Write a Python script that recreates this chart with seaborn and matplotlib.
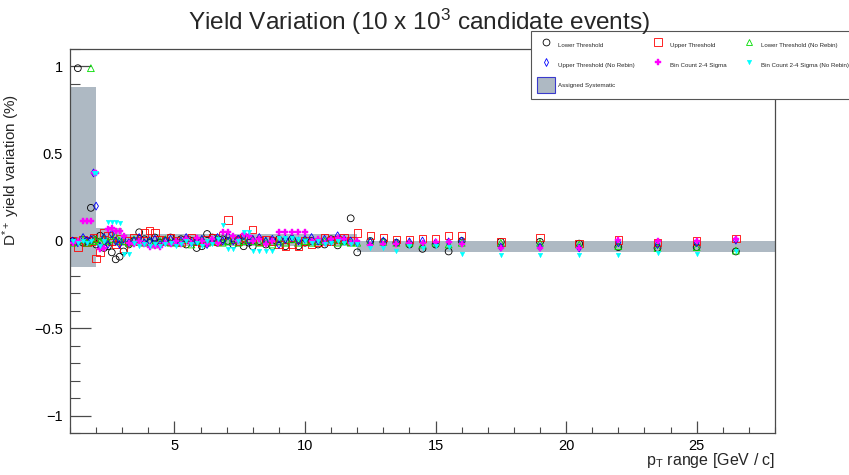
import numpy as np
import pandas as pd
import matplotlib
matplotlib.use("Agg")
import matplotlib.pyplot as plt
import seaborn as sns
from matplotlib.patches import Patch
from matplotlib.lines import Line2D
from matplotlib.ticker import MultipleLocator

# ---------------- data ----------------
pt = [1.1, 1.3, 1.5, 1.65, 1.8, 1.9, 2.0, 2.15, 2.3, 2.45, 2.6, 2.75, 2.9,
      3.05, 3.25, 3.45, 3.65, 3.85, 4.05, 4.25, 4.45, 4.65, 4.85, 5.05, 5.25, 5.45,
      5.65, 5.85, 6.05, 6.25, 6.45, 6.65, 6.85, 7.05, 7.25, 7.45, 7.65, 7.85,
      8.0, 8.25, 8.5, 8.75, 9.0, 9.25, 9.5, 9.75, 10.0, 10.25, 10.5, 10.75, 11.0, 11.25, 11.5, 11.75,
      12.0, 12.5, 13.0, 13.5, 14.0, 14.5, 15.0, 15.5, 16.0,
      17.5, 19.0, 20.5, 22.0, 23.5, 25.0, 26.5]

lower_threshold = [0.0, 0.99, -0.01, 0.0, 0.19, 0.01, -0.02, 0.03, -0.04, -0.03, -0.065, -0.105, -0.09,
                   -0.06, -0.02, 0.0, 0.05, 0.01, -0.01, 0.02, -0.01, 0.0, 0.02, -0.01, 0.01, -0.02,
                   0.0, -0.04, -0.03, 0.04, 0.02, -0.01, 0.01, 0.0, -0.02, 0.01, -0.03, -0.01,
                   -0.03, 0.0, -0.02, -0.03, 0.01, -0.03, 0.01, -0.03, -0.01, 0.0, -0.02, -0.02, 0.01, -0.025, 0.0, 0.13,
                   -0.065, 0.0, -0.005, -0.01, -0.02, -0.045, -0.02, -0.06, 0.0,
                   -0.005, -0.005, -0.015, -0.035, -0.04, -0.035, -0.06]

upper_threshold = [0.0, -0.035, 0.01, -0.01, 0.0, 0.02, -0.10, -0.065, 0.05, 0.03, 0.0, -0.02, 0.015,
                   -0.04, 0.0, 0.02, 0.0, 0.045, 0.06, 0.05, 0.01, 0.0, 0.02, 0.0, -0.01, 0.01,
                   0.02, 0.0, -0.01, 0.01, 0.02, 0.0, 0.03, 0.12, 0.01, 0.0, 0.02, 0.01,
                   0.065, 0.0, 0.01, 0.0, -0.02, -0.03, -0.02, -0.03, 0.0, -0.02, -0.01, 0.02, 0.0, 0.01, 0.02, 0.0,
                   0.045, 0.03, 0.02, 0.01, 0.01, 0.015, 0.015, 0.03, 0.03,
                   -0.005, 0.02, -0.015, 0.005, -0.01, 0.0, 0.015]

lower_threshold_norebin = [-0.01, 0.0, 0.01, -0.01, 0.99, 0.0, 0.01, 0.0, 0.02, 0.0, 0.01, 0.03, 0.0,
                           0.0, -0.01, 0.01, 0.0, -0.01, 0.0, -0.02, 0.0, 0.01, -0.01, 0.0, -0.01, 0.01,
                           -0.02, 0.0, 0.01, -0.01, 0.0, 0.01, -0.01, 0.0, 0.01, -0.01, 0.0, 0.01,
                           0.0, -0.01, 0.0, -0.02, 0.0, -0.01, 0.01, -0.01, 0.0, -0.01, 0.0, 0.0, 0.01, -0.01, 0.0, -0.01,
                           -0.01, 0.0, -0.005, -0.01, -0.01, -0.02, -0.01, -0.02, -0.01,
                           -0.01, -0.01, -0.02, -0.03, -0.04, -0.035, -0.055]

upper_threshold_norebin = [0.0, -0.01, 0.02, 0.0, 0.01, 0.39, 0.2, -0.03, 0.02, -0.02, 0.04, 0.0, -0.02,
                           0.01, -0.01, 0.0, 0.02, -0.01, 0.0, 0.01, -0.02, 0.0, 0.01, -0.01, 0.0, 0.02,
                           -0.01, 0.0, 0.01, -0.02, 0.0, 0.02, 0.0, 0.03, 0.0, 0.01, 0.03, 0.0,
                           0.01, 0.02, 0.0, 0.01, -0.02, 0.01, 0.02, 0.0, 0.01, 0.02, 0.0, 0.01, 0.0, 0.03, 0.01, 0.0,
                           -0.01, -0.005, 0.0, -0.01, -0.005, 0.0, -0.01, -0.005, 0.0,
                           -0.035, -0.035, -0.04, -0.01, -0.02, -0.01, 0.005]

bin_count = [-0.01, 0.0, 0.115, 0.115, 0.115, 0.39, 0.39, -0.045, -0.04, 0.07, 0.075, 0.06, 0.055,
             0.03, -0.01, -0.02, 0.0, -0.02, -0.035, -0.03, -0.035, -0.01, -0.02, 0.0, -0.02, 0.01,
             -0.01, 0.02, 0.0, -0.02, 0.01, -0.01, 0.05, 0.05, 0.03, 0.0, 0.04, 0.03,
             0.0, 0.01, -0.02, 0.0, 0.05, 0.05, 0.05, 0.05, 0.05, 0.0, 0.01, -0.01, 0.01, 0.02, 0.01, -0.01,
             0.0, -0.025, -0.02, -0.02, -0.01, -0.01, -0.005, -0.005, -0.02,
             -0.04, -0.04, -0.04, 0.005, 0.0, 0.0, 0.01]

bin_count_norebin = [0.0, -0.01, 0.0, -0.01, 0.0, 0.39, 0.39, -0.03, 0.0, 0.11, 0.11, 0.11, 0.105,
                     -0.075, -0.075, -0.01, -0.03, -0.02, -0.03, -0.02, -0.03, -0.02, -0.01, -0.03, -0.02, 0.0,
                     -0.02, -0.01, -0.03, 0.0, -0.02, 0.01, 0.09, -0.045, -0.045, 0.0, 0.05, 0.05,
                     -0.06, -0.06, -0.06, -0.06, 0.02, 0.02, 0.02, 0.01, 0.0, -0.01, 0.0, -0.02, -0.01, 0.0, -0.01, -0.02,
                     -0.02, -0.04, -0.04, -0.06, -0.03, -0.04, -0.03, -0.035, -0.075,
                     -0.08, -0.08, -0.08, -0.08, -0.07, -0.075, -0.06]

# assigned systematic band (step histogram)
sys_edges = [1.0, 2.0, 3.0, 12.0, 28.0]
sys_low = [-0.15, -0.03, -0.03, -0.065]
sys_high = [0.88, 0.075, 0.04, 0.0]

series_names = ["Lower Threshold", "Upper Threshold", "Lower Threshold (No Rebin)",
                "Upper Threshold (No Rebin)", "Bin Count 2-4 Sigma", "Bin Count 2-4 Sigma (No Rebin)"]
series_values = [lower_threshold, upper_threshold, lower_threshold_norebin,
                 upper_threshold_norebin, bin_count, bin_count_norebin]

# ---------------- styling ----------------
styles = {
    "Lower Threshold": dict(marker="o", s=24, fc="none", ec="#000000", lw=0.6),
    "Upper Threshold": dict(marker="s", s=28, fc="none", ec="#ff0000", lw=0.6),
    "Lower Threshold (No Rebin)": dict(marker="^", s=24, fc="none", ec="#00dd00", lw=0.6),
    "Upper Threshold (No Rebin)": dict(marker="d", s=16, fc="none", ec="#0000ff", lw=0.6),
    "Bin Count 2-4 Sigma": dict(marker="P", s=17, fc="#ff00ff", ec="#ff00ff", lw=0.3),
    "Bin Count 2-4 Sigma (No Rebin)": dict(marker="v", s=11, fc="#00ffff", ec="#00ffff", lw=0.3),
}

sns.set_theme(style="white")
plt.rcParams['font.family'] = ['Liberation Sans', 'DejaVu Sans']
plt.rcParams['mathtext.fontset'] = 'custom'
plt.rcParams['mathtext.rm'] = 'Liberation Sans'
plt.rcParams['mathtext.it'] = 'Liberation Sans:italic'
plt.rcParams['mathtext.bf'] = 'Liberation Sans:bold'

W, H = 849, 475
fig = plt.figure(figsize=(W / 100, H / 100), dpi=100)
ax = fig.add_axes([70 / W, 1 - 433 / H, (775 - 70) / W, (433 - 49) / H])

# band
band_color = "#aeb9c3"
ax.bar(sys_edges[:-1], np.array(sys_high) - np.array(sys_low), width=np.diff(sys_edges),
       bottom=sys_low, align="edge", color=band_color, linewidth=0, zorder=1)

# points
df = pd.concat([pd.DataFrame({"pt": pt, "value": v, "series": n})
                for n, v in zip(series_names, series_values)], ignore_index=True)
for n in series_names:
    st = styles[n]
    sub = df[df["series"] == n]
    sns.scatterplot(data=sub, x="pt", y="value", ax=ax, marker=st["marker"], s=st["s"],
                    facecolors=st["fc"], edgecolors=st["ec"], linewidths=st["lw"],
                    zorder=3, legend=False)

ax.set_xlim(1, 28)
ax.set_ylim(-1.1, 1.1)
ax.set_xticks([5, 10, 15, 20, 25])
ax.xaxis.set_minor_locator(MultipleLocator(1))
ax.set_yticks([-1, -0.5, 0, 0.5, 1])
ax.set_yticklabels(["\u22121", "\u22120.5", "0", "0.5", "1"])
ax.yaxis.set_minor_locator(MultipleLocator(0.1))
frame_c = "#4a4a4a"
ax.tick_params(axis="both", which="both", direction="in", colors=frame_c,
               labelcolor="black", labelsize=10.5, bottom=True, left=True, top=False, right=False)
ax.tick_params(axis="y", which="major", length=15, width=0.9, pad=5)
ax.tick_params(axis="y", which="minor", length=7.5, width=0.8)
ax.tick_params(axis="x", which="major", length=8.3, width=0.9, pad=4)
ax.tick_params(axis="x", which="minor", length=4.2, width=0.8)
for sp in ax.spines.values():
    sp.set_color(frame_c)
    sp.set_linewidth(0.9)
    sp.set_visible(True)
ax.set_zorder(2)
for t in ax.get_xticklines() + ax.get_yticklines():
    t.set_zorder(5)

ax.set_xlabel(r"p$_{\mathrm{T}}$ range [GeV / c]", fontsize=11.5, ha="right")
ax.xaxis.set_label_coords(1.0, -0.048)
ax.xaxis.label.set_va("top")
ax.set_ylabel(r"D$^{*+}$ yield variation (%)", fontsize=11)
ax.yaxis.set_label_coords(-0.068, 0.685)

fig.text(0.494, 0.985, r"Yield Variation (10 x 10$^{3}$ candidate events)",
         ha="center", va="top", fontsize=17.6)

# legend
def mk(n):
    st = styles[n]
    return Line2D([], [], linestyle="none", marker=st["marker"],
                  markersize=np.sqrt(st["s"]), markerfacecolor=st["fc"],
                  markeredgecolor=st["ec"], markeredgewidth=st["lw"])

handles = {n: mk(n) for n in series_names}
handles["Assigned Systematic"] = Patch(facecolor=band_color, edgecolor="#3a3acc", linewidth=0.8)
order = ["Lower Threshold", "Upper Threshold (No Rebin)", "Assigned Systematic",
         "Upper Threshold", "Bin Count 2-4 Sigma",
         "Lower Threshold (No Rebin)", "Bin Count 2-4 Sigma (No Rebin)"]
leg = ax.legend([handles[o] for o in order], order, ncol=3, loc="upper left",
                bbox_to_anchor=(531 / W, 1 - 31 / H), bbox_transform=fig.transFigure,
                borderaxespad=0, fontsize=4.45, handlelength=2.9, handleheight=3.7,
                handletextpad=0.55, labelspacing=0.6, columnspacing=2.2,
                borderpad=0.95, frameon=True, fancybox=False, framealpha=1,
                edgecolor="#555555")
leg.get_frame().set_linewidth(0.8)
leg.set_zorder(10)

fig.savefig("out.png", dpi=100)
